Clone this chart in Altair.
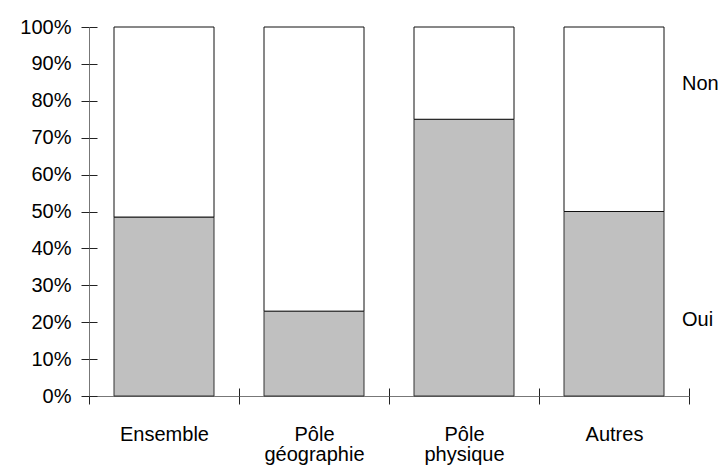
import json
import altair as alt
import pandas as pd

categories = ["Ensemble", "Pôle géographie", "Pôle physique", "Autres"]
oui = [48.5, 23.0, 75.0, 50.0]
non = [51.5, 77.0, 25.0, 50.0]
y_ticks = [0, 10, 20, 30, 40, 50, 60, 70, 80, 90, 100]
series_labels = ["Non", "Oui"]
series_label_level = [84.5, 20.5]

df = pd.DataFrame({
    "idx": list(range(len(categories))),
    "cat": categories,
    "oui": oui,
    "non": non,
})
lab = pd.DataFrame({"s": series_labels, "lvl": series_label_level, "pos": [len(categories)] * 2})

FONT = "Liberation Sans"
FS = 20
xscale = alt.Scale(domain=[0, len(categories)], nice=False, zero=False)
yscale = alt.Scale(domain=[0, 100], nice=False)
band_edges = list(range(len(categories) + 1))
band_mids = [i + 0.5 for i in range(len(categories))]
cat_json = json.dumps(categories, ensure_ascii=False)

axis_common = dict(labelFont=FONT, labelFontSize=FS, labelColor="black",
                   domainColor="#777777", tickColor="#222222", grid=False, title=None)

x_axis_main = alt.Axis(orient="bottom", values=band_edges, labels=False, tickSize=8,
                       domain=True, **axis_common)
x_axis_inner = alt.Axis(orient="bottom", values=band_edges, labels=False, tickSize=8,
                        domain=False, offset=-8, **axis_common)
x_axis_labels = alt.Axis(orient="bottom", values=band_mids, ticks=False, domain=False,
                         labelPadding=28, labelLineHeight=20,
                         labelExpr=f"split({cat_json}[floor(datum.value)], ' ')",
                         **axis_common)
y_axis_main = alt.Axis(orient="left", values=y_ticks, tickSize=8, labelPadding=10,
                       labelExpr="datum.value + '%'", domain=True, **axis_common)
y_axis_inner = alt.Axis(orient="left", values=y_ticks, tickSize=8, labels=False,
                        domain=False, offset=-8, **axis_common)

base = alt.Chart(df).transform_calculate(
    x0="datum.idx + 1/6", x1="datum.idx + 5/6",
    zero="0", top="datum.oui + datum.non"
)

oui_bars = base.mark_bar(fill="#c0c0c0", stroke="#333333", strokeWidth=1).encode(
    x=alt.X("x0:Q", scale=xscale, axis=x_axis_main),
    x2="x1:Q",
    y=alt.Y("zero:Q", scale=yscale, axis=y_axis_main),
    y2="oui:Q",
)

non_bars = base.mark_bar(fill="white", stroke="#111111", strokeWidth=1).encode(
    x=alt.X("x0:Q", scale=xscale, axis=x_axis_inner),
    x2="x1:Q",
    y=alt.Y("oui:Q", scale=yscale, axis=y_axis_inner),
    y2="top:Q",
)

labels_layer = alt.Chart(lab).mark_text(align="left", baseline="middle", font=FONT,
                                        fontSize=FS, color="black", dx=-7).encode(
    x=alt.X("pos:Q", scale=xscale, axis=x_axis_labels),
    y=alt.Y("lvl:Q", scale=yscale, axis=None),
    text="s:N",
)

chart = alt.layer(oui_bars, non_bars, labels_layer).resolve_axis(
    x="independent", y="independent"
).properties(
    width=600, height=369,
    autosize=alt.AutoSizeParams(type="none"),
    padding={"left": 81, "top": 19, "right": 31, "bottom": 71},
).configure_view(stroke=None)

chart.save("out.html", embed_options={"renderer": "svg", "actions": False})
